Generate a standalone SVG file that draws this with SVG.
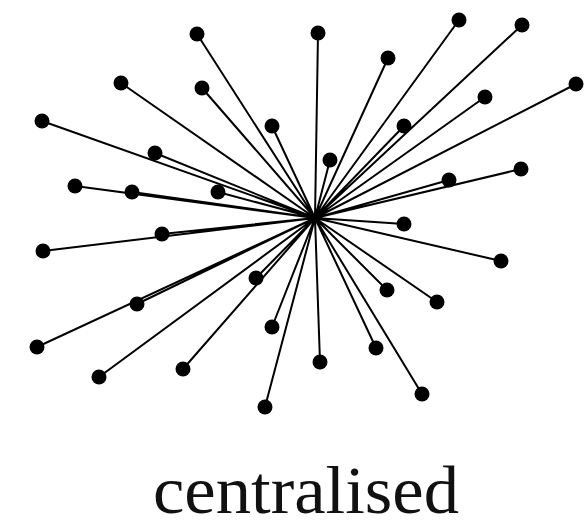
<svg xmlns="http://www.w3.org/2000/svg" width="585" height="529" viewBox="0 0 585 529">
<style>
.e{stroke:#000;stroke-width:2;fill:none}
.n{fill:#000}
.t{font-family:"Liberation Serif",serif;font-size:68px;fill:#111;text-anchor:middle}
</style>
<rect width="585" height="529" fill="#fff"/>
<g id="connectors" class="e">
<path d="M315 218L197 34M315 218L121 83M315 218L202 88M315 218L272 126M315 218L42 121M315 218L155 153M315 218L75 186M315 218L132 192M315 218L218 192M315 218L318 33M315 218L388 58M315 218L459 20M315 218L522 25M315 218L485 97M315 218L576 84M315 218L404 126M315 218L330 160M315 218L449 180M315 218L521 169M315 218L162 234M315 218L43 251M315 218L137 304M315 218L37 347M315 218L256 278M315 218L272 327M315 218L99 377M315 218L183 369M315 218L265 407M315 218L404 224M315 218L501 261M315 218L387 290M315 218L437 302M315 218L376 348M315 218L320 362M315 218L422 394"/>
</g>
<g class="n">
<circle id="n1" cx="197" cy="34" r="7.5"/>
<circle id="n2" cx="121" cy="83" r="7.5"/>
<circle id="n3" cx="202" cy="88" r="7.5"/>
<circle id="n4" cx="272" cy="126" r="7.5"/>
<circle id="n5" cx="42" cy="121" r="7.5"/>
<circle id="n6" cx="155" cy="153" r="7.5"/>
<circle id="n7" cx="75" cy="186" r="7.5"/>
<circle id="n8" cx="132" cy="192" r="7.5"/>
<circle id="n9" cx="218" cy="192" r="7.5"/>
<circle id="n10" cx="318" cy="33" r="7.5"/>
<circle id="n11" cx="388" cy="58" r="7.5"/>
<circle id="n12" cx="459" cy="20" r="7.5"/>
<circle id="n13" cx="522" cy="25" r="7.5"/>
<circle id="n14" cx="485" cy="97" r="7.5"/>
<circle id="n15" cx="576" cy="84" r="7.5"/>
<circle id="n16" cx="404" cy="126" r="7.5"/>
<circle id="n17" cx="330" cy="160" r="7.5"/>
<circle id="n18" cx="449" cy="180" r="7.5"/>
<circle id="n19" cx="521" cy="169" r="7.5"/>
<circle id="n20" cx="162" cy="234" r="7.5"/>
<circle id="n21" cx="43" cy="251" r="7.5"/>
<circle id="n22" cx="137" cy="304" r="7.5"/>
<circle id="n23" cx="37" cy="347" r="7.5"/>
<circle id="n24" cx="256" cy="278" r="7.5"/>
<circle id="n25" cx="272" cy="327" r="7.5"/>
<circle id="n26" cx="99" cy="377" r="7.5"/>
<circle id="n27" cx="183" cy="369" r="7.5"/>
<circle id="n28" cx="265" cy="407" r="7.5"/>
<circle id="n29" cx="404" cy="224" r="7.5"/>
<circle id="n30" cx="501" cy="261" r="7.5"/>
<circle id="n31" cx="387" cy="290" r="7.5"/>
<circle id="n32" cx="437" cy="302" r="7.5"/>
<circle id="n33" cx="376" cy="348" r="7.5"/>
<circle id="n34" cx="320" cy="362" r="7.5"/>
<circle id="n35" cx="422" cy="394" r="7.5"/>
</g>
<text class="t" x="306" y="513" textLength="306" lengthAdjust="spacingAndGlyphs">centralised</text>
</svg>
